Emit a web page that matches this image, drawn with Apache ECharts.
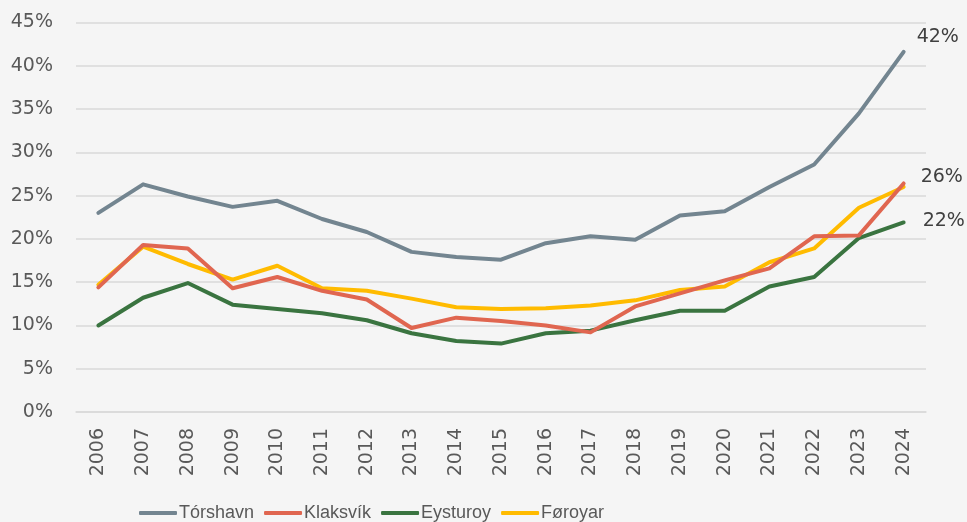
<!DOCTYPE html>
<html>
<head>
<meta charset="utf-8">
<script src="https://cdn.jsdelivr.net/npm/echarts@6/dist/echarts.min.js"></script>
<style>
  html, body { margin: 0; padding: 0; background: #f5f5f5; }
  #chart { width: 967px; height: 522px; }
</style>
</head>
<body>
<div id="chart"></div>
<script>
var years = ['2006','2007','2008','2009','2010','2011','2012','2013','2014','2015',
             '2016','2017','2018','2019','2020','2021','2022','2023','2024'];
var torshavn = [23.0,26.3,24.9,23.7,24.4,22.3,20.8,18.5,17.9,17.6,19.5,20.3,19.9,22.7,23.2,26.0,28.6,34.5,41.6];
var klaksvik = [14.4,19.3,18.9,14.3,15.6,14.0,13.0,9.7,10.9,10.5,10.0,9.2,12.2,13.7,15.2,16.6,20.3,20.4,26.4];
var eysturoy = [10.0,13.2,14.9,12.4,11.9,11.4,10.6,9.1,8.2,7.9,9.1,9.4,10.6,11.7,11.7,14.5,15.6,20.1,21.9];
var foroyar  = [14.7,19.1,17.1,15.3,16.9,14.3,14.0,13.1,12.1,11.9,12.0,12.3,12.9,14.1,14.5,17.3,18.9,23.6,26.0];

var names = ['Tórshavn', 'Klaksvík', 'Eysturoy', 'Føroyar'];
var colors = ['#738590', '#e06650', '#3a7440', '#ffbb00'];
var axisFont = "'DejaVu Sans', sans-serif";

// value label at the end of the line only
function endLabel(offset) {
    return {
        show: true,
        formatter: function (p) {
            return Math.round(p.value) + '%';
        },
        offset: offset,
        distance: 5,
        color: '#404040',
        fontSize: 19,
        fontFamily: axisFont
    };
}

function makeSeries(i, data, label) {
    return {
        name: names[i],
        type: 'line',
        data: data,
        symbol: 'none',
        z: 10 - i,
        lineStyle: { color: colors[i], width: 4, cap: 'round', join: 'round' },
        itemStyle: { color: colors[i] },
        endLabel: label || { show: false }
    };
}

var myChart = echarts.init(document.getElementById('chart'));
var option = {
    backgroundColor: '#f5f5f5',
    animation: false,
    grid: { left: 76, right: 41, top: 22.5, bottom: 110 },
    legend: {
        bottom: -5,
        left: 134,
        itemWidth: 38,
        itemHeight: 4,
        itemGap: 10,
        icon: 'roundRect',
        textStyle: { color: '#595959', fontSize: 18, fontFamily: "'Liberation Sans', sans-serif", padding: [0, 0, 0, -3] },
        data: names
    },
    xAxis: {
        type: 'category',
        data: years,
        axisLine: { show: true, lineStyle: { color: '#d9d9d9', width: 1.5 } },
        axisTick: { show: false },
        axisLabel: { rotate: 90, color: '#595959', fontSize: 19, margin: 16, fontFamily: axisFont }
    },
    yAxis: {
        type: 'value',
        min: 0,
        max: 45,
        interval: 5,
        axisLine: { show: false },
        axisTick: { show: false },
        splitLine: { lineStyle: { color: '#d9d9d9', width: 1.5 } },
        axisLabel: {
            formatter: '{value}%',
            color: '#595959',
            fontSize: 19,
            margin: 23,
            fontFamily: axisFont
        }
    },
    series: [
        makeSeries(0, torshavn, endLabel([8, -15])),
        makeSeries(1, klaksvik),
        makeSeries(2, eysturoy, endLabel([14, -1])),
        makeSeries(3, foroyar, endLabel([12, -10]))
    ]
};
myChart.setOption(option);
</script>
</body>
</html>
